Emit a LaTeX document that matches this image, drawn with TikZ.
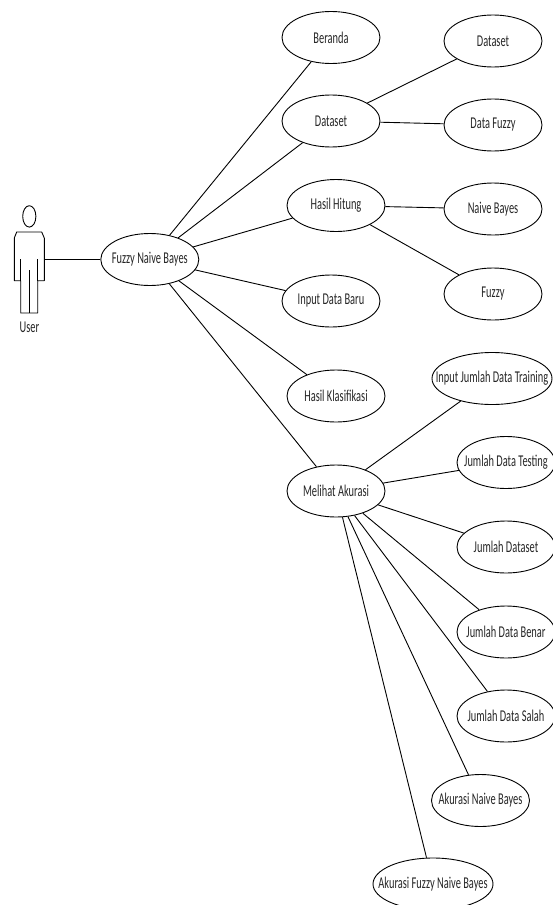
\documentclass[tikz,border=0pt]{standalone}
\usepackage{fontspec}
\setmainfont[FakeStretch=0.63]{Carlito}
\usetikzlibrary{shapes.geometric}
\tikzset{
 uc/.style={draw=black,line width=0.9pt,ellipse,inner xsep=-60pt,inner ysep=-12pt,font=\fontsize{16.5}{17}\selectfont,text=black!85},
 lnk/.style={draw=black,line width=0.9pt},
 actorline/.style={draw=black,line width=0.9pt,line join=round}
}
\newcommand{\uca}[6]{\node[uc,minimum width=#4pt,minimum height=#5pt] (#1) at (#2,#3) {#6};}
\begin{document}
\begin{tikzpicture}[x=1pt,y=-1pt]
\useasboundingbox (0,0) rectangle (552,905);
\uca{fnb}{149.8}{259.5}{98}{52}{Fuzzy Naive Bayes}
\uca{ber}{331}{37.5}{98}{52}{Beranda}
\uca{ds}{331}{121}{98}{52}{Dataset}
\uca{dset}{493}{41}{98}{52}{Dataset}
\uca{dfz}{493}{125}{98}{52}{Data Fuzzy}
\uca{hh}{336}{205.5}{98}{52}{Hasil Hitung}
\uca{nb}{493}{209}{98}{52}{Naive Bayes}
\uca{fz}{493}{294}{98}{52}{Fuzzy}
\uca{idb}{331}{301}{98}{52}{Input Data Baru}
\uca{hk}{336}{396}{98}{52}{Hasil Klasifikasi}
\uca{ma}{336}{491}{98}{52}{Melihat Akurasi}
\uca{ijt}{492}{378.5}{120}{52}{Input Jumlah Data Training}
\uca{jdt}{506}{462.5}{98}{52}{Jumlah Data Testing}
\uca{jd}{506}{547}{98}{52}{Jumlah Dataset}
\uca{jdb}{506}{632}{98}{52}{Jumlah Data Benar}
\uca{jds}{506}{716}{98}{52}{Jumlah Data Salah}
\uca{anb}{480.5}{800.5}{98}{52}{Akurasi Naive Bayes}
\uca{afn}{433}{884}{120}{52}{Akurasi Fuzzy Naive Bayes}
% actor
\draw[actorline] (29.3,216.4) ellipse (6.6pt and 10.7pt);
\draw[actorline] (16.7,232) -- (41.7,232) -- (44.3,238) -- (44.3,280.7) -- (37.7,280.7) -- (37.7,313) -- (20.7,313) -- (20.7,280.7) -- (14.3,280.7) -- (14.3,238) -- cycle;
\draw[actorline] (20.7,259) -- (20.7,280.7) (37.7,259) -- (37.7,280.7) (29.3,270) -- (29.3,313);
\coordinate (hand) at (44.3,259.5);
\node[font=\fontsize{16.5}{17}\selectfont,text=black!85] (user) at (29.5,327) {User};
\draw[lnk] (hand) -- (fnb);
\foreach \t in {ber,ds,hh,idb,hk,ma} \draw[lnk] (fnb) -- (\t);
\foreach \t in {dset,dfz} \draw[lnk] (ds) -- (\t);
\foreach \t in {nb,fz} \draw[lnk] (hh) -- (\t);
\foreach \t in {ijt,jdt,jd,jdb,jds,anb,afn} \draw[lnk] (ma) -- (\t);
\end{tikzpicture}
\end{document}
